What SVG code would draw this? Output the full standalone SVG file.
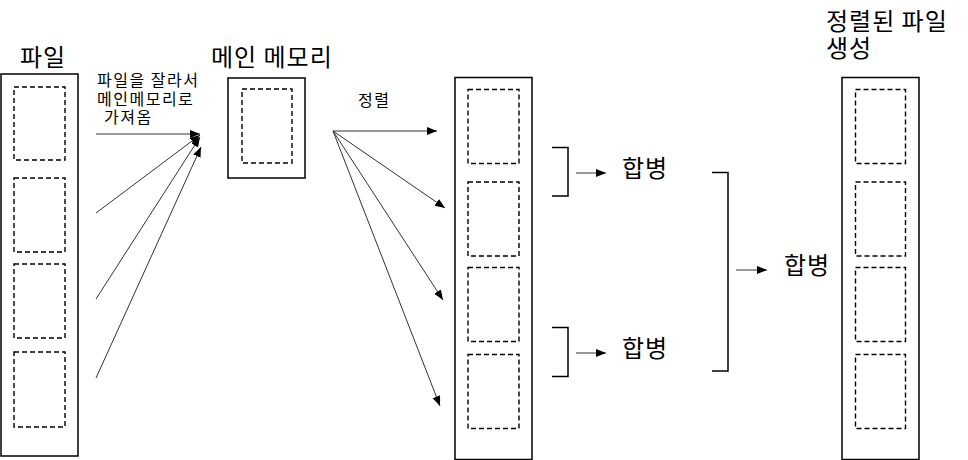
<svg xmlns="http://www.w3.org/2000/svg" width="968" height="460" viewBox="0 0 968 460">
<style>
.box{fill:#fff;stroke:#000;stroke-width:1.5}
.dash{fill:none;stroke:#000;stroke-width:1.4;stroke-dasharray:5,3}
.br{fill:none;stroke:#000;stroke-width:1.5}
.ln{fill:none;stroke:#333;stroke-width:1;marker-end:url(#ah)}
.big{font-family:"Noto Sans CJK KR","Noto Sans",sans-serif;font-size:24px;letter-spacing:1px;fill:#000}
.sm{font-family:"Noto Sans CJK KR","Noto Sans",sans-serif;font-size:16px;letter-spacing:1.5px;fill:#000}
</style>
<defs>
<marker id="ah" markerUnits="userSpaceOnUse" markerWidth="11" markerHeight="9" refX="10" refY="4" orient="auto">
<path d="M0,0 L10,4 L0,8 z" fill="#000"/>
</marker>
</defs>
<rect width="968" height="460" fill="#fff"/>

<g id="file">
<text class="big" x="20" y="66">파일</text>
<rect class="box" x="1" y="74" width="77" height="382"/>
<rect class="dash" x="14" y="87" width="51" height="73"/>
<rect class="dash" x="14" y="178" width="51" height="74"/>
<rect class="dash" x="14" y="264" width="51" height="74"/>
<rect class="dash" x="14" y="352" width="51" height="75"/>
</g>

<g id="load-label">
<text class="sm" x="97" y="86">파일을 잘라서</text>
<text class="sm" x="97" y="104.5">메인메모리로</text>
<text class="sm" x="104" y="123">가져옴</text>
</g>

<g id="memory">
<text class="big" x="211" y="66">메인 메모리</text>
<rect class="box" x="228" y="78" width="77" height="100"/>
<rect class="dash" x="242" y="89" width="50" height="74"/>
</g>

<g id="sort-label">
<text class="sm" x="358" y="106">정렬</text>
</g>

<g id="sorted-runs">
<rect class="box" x="455" y="77.5" width="77" height="382"/>
<rect class="dash" x="468" y="89.5" width="51" height="74"/>
<rect class="dash" x="468" y="182" width="51" height="74"/>
<rect class="dash" x="468" y="267.5" width="51" height="74"/>
<rect class="dash" x="468" y="354.5" width="51" height="74"/>
</g>

<g id="merge1">
<path class="br" d="M552,147.5 H568 V196 H552"/>
<text class="big" x="622" y="177">합병</text>
</g>

<g id="merge2">
<path class="br" d="M552,327.5 H568 V376.5 H552"/>
<text class="big" x="622" y="357">합병</text>
</g>

<g id="merge3">
<path class="br" d="M712,172.5 H728 V371 H712"/>
<text class="big" x="784" y="274">합병</text>
</g>

<g id="result">
<text class="big" x="826" y="30">정렬된 파일</text>
<text class="big" x="826" y="57">생성</text>
<rect class="box" x="842" y="77.5" width="77" height="382"/>
<rect class="dash" x="855.5" y="89.5" width="50" height="74"/>
<rect class="dash" x="855.5" y="182" width="50" height="74"/>
<rect class="dash" x="855.5" y="267.5" width="50" height="74"/>
<rect class="dash" x="855.5" y="354.5" width="50" height="74"/>
</g>

<g id="connectors">
<line class="ln" x1="96" y1="134" x2="200" y2="134"/>
<line class="ln" x1="96" y1="213" x2="200" y2="135"/>
<line class="ln" x1="96" y1="299" x2="200" y2="137"/>
<line class="ln" x1="96" y1="378" x2="201" y2="147"/>
<line class="ln" x1="333" y1="131" x2="437" y2="131"/>
<line class="ln" x1="333" y1="131" x2="445" y2="208"/>
<line class="ln" x1="333" y1="131" x2="443" y2="300"/>
<line class="ln" x1="333" y1="131" x2="440" y2="406"/>
<line class="ln" x1="576" y1="173" x2="606" y2="173"/>
<line class="ln" x1="576" y1="353" x2="606" y2="353"/>
<line class="ln" x1="736" y1="270" x2="767" y2="270"/>
</g>
</svg>
